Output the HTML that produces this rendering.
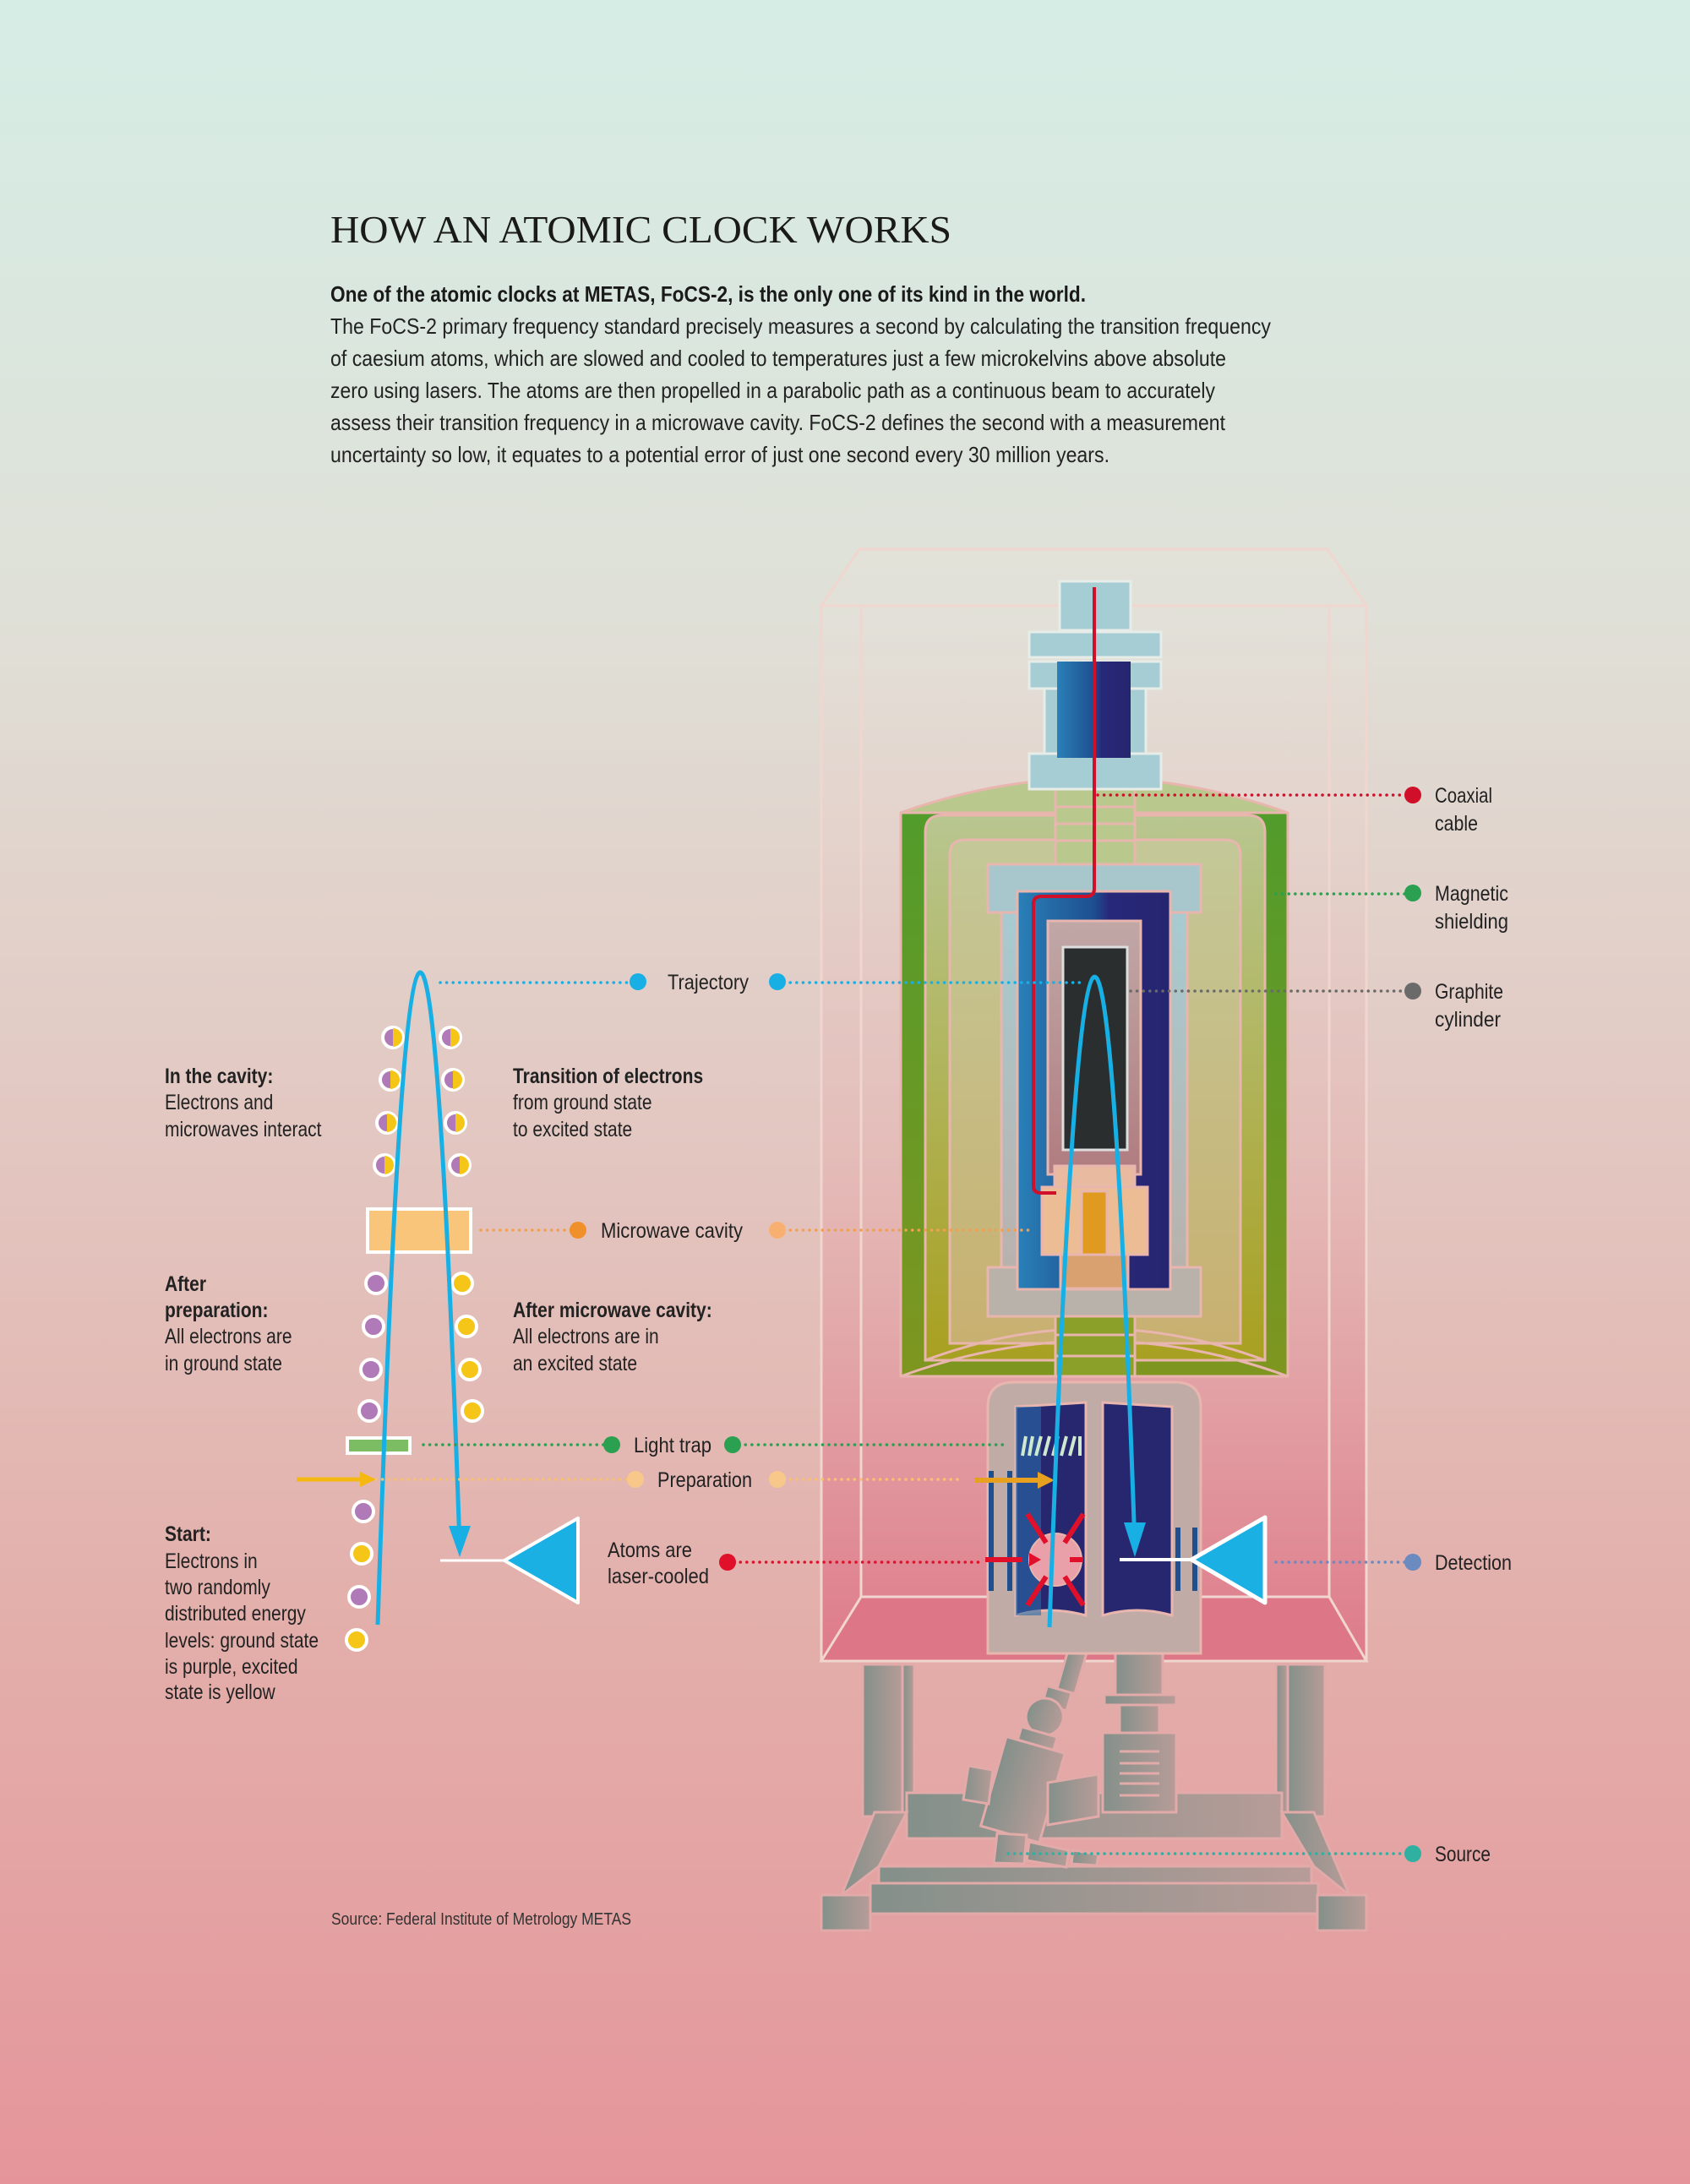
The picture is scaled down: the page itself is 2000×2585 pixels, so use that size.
<!DOCTYPE html>
<html><head><meta charset="utf-8"><style>html,body{margin:0;padding:0}svg{display:block}</style></head><body>
<svg width="2000" height="2585" viewBox="0 0 2000 2585" xmlns="http://www.w3.org/2000/svg" font-family="'Liberation Sans', sans-serif">
<defs>
<linearGradient id="bg" x1="0" y1="0" x2="0" y2="1">
<stop offset="0" stop-color="#d5ede5"/><stop offset="0.27" stop-color="#dfe1d8"/><stop offset="0.5" stop-color="#e3c9c3"/><stop offset="0.75" stop-color="#e3aeaa"/><stop offset="1" stop-color="#e5959a"/></linearGradient>
<linearGradient id="box" x1="0" y1="0" x2="0" y2="1">
<stop offset="0" stop-color="#e6e2da" stop-opacity="0.5"/><stop offset="0.5" stop-color="#e5b8b5" stop-opacity="0.6"/><stop offset="1" stop-color="#de7a8a"/></linearGradient>
<linearGradient id="g1" x1="0" y1="0" x2="0" y2="1"><stop offset="0" stop-color="#4f9c2c"/><stop offset="1" stop-color="#7e9620"/></linearGradient>
<linearGradient id="g2" x1="0" y1="0" x2="0" y2="1"><stop offset="0" stop-color="#b8c690"/><stop offset="1" stop-color="#a8a020"/></linearGradient>
<linearGradient id="g3" x1="0" y1="0" x2="0" y2="1"><stop offset="0" stop-color="#c4c898"/><stop offset="1" stop-color="#c8b070"/></linearGradient>
<linearGradient id="tube" x1="0" y1="0" x2="1" y2="0"><stop offset="0" stop-color="#2a80b8"/><stop offset="0.5" stop-color="#1d4f90"/><stop offset="0.6" stop-color="#28287a"/><stop offset="1" stop-color="#25256f"/></linearGradient>
<linearGradient id="lb" x1="0" y1="0" x2="0" y2="1"><stop offset="0" stop-color="#a7ccd2"/><stop offset="1" stop-color="#bab0aa"/></linearGradient>
<linearGradient id="gray" x1="0" y1="0" x2="1" y2="0"><stop offset="0" stop-color="#84908a"/><stop offset="1" stop-color="#b79c98"/></linearGradient>
<linearGradient id="graph" x1="0" y1="0" x2="0" y2="1"><stop offset="0" stop-color="#c0a8a6"/><stop offset="1" stop-color="#b07c80"/></linearGradient>
</defs>
<rect width="2000" height="2585" fill="url(#bg)"/>

<!-- Title and text -->
<text x="391" y="287" font-family="'Liberation Serif', serif" font-size="46" fill="#1a1a1a" textLength="735" lengthAdjust="spacingAndGlyphs">HOW AN ATOMIC CLOCK WORKS</text>
<text x="391" y="357" font-size="26" font-weight="bold" fill="#1a1a1a" textLength="894" lengthAdjust="spacingAndGlyphs">One of the atomic clocks at METAS, FoCS-2, is the only one of its kind in the world.</text>
<g font-size="26" fill="#222">
<text x="391" y="395" textLength="1113" lengthAdjust="spacingAndGlyphs">The  FoCS-2 primary frequency standard precisely measures a second by calculating the transition frequency</text>
<text x="391" y="433" textLength="1060" lengthAdjust="spacingAndGlyphs">of caesium atoms, which are slowed and cooled to temperatures just a few microkelvins above absolute</text>
<text x="391" y="471" textLength="1047" lengthAdjust="spacingAndGlyphs">zero using lasers. The atoms are then propelled in a parabolic path as a continuous beam to accurately</text>
<text x="391" y="509" textLength="1059" lengthAdjust="spacingAndGlyphs">assess their transition frequency in a microwave cavity. FoCS-2 defines the second with a measurement</text>
<text x="391" y="547" textLength="922" lengthAdjust="spacingAndGlyphs">uncertainty so low, it equates to a potential error of just one second every 30 million years.</text>
</g>

<!-- Box -->
<g stroke="#f0d6cf" stroke-width="3">
<rect x="972" y="717" width="645" height="1249" fill="url(#box)"/>
<polygon points="1017,650 1571,650 1617,717 972,717" fill="#e6e2da" fill-opacity="0.5"/>
<line x1="1019" y1="717" x2="1019" y2="1890"/><line x1="1573" y1="717" x2="1573" y2="1890"/>
<polygon points="1019,1890 1573,1890 1617,1966 972,1966" fill="#dd7687"/>
</g>

<!-- Base -->
<g fill="url(#gray)" stroke="#e2aaa8" stroke-width="3">
<rect x="1021" y="1970" width="47" height="180"/><rect x="1068" y="1970" width="14" height="175"/>
<rect x="1524" y="1970" width="44" height="180"/><rect x="1510" y="1970" width="14" height="175"/>
<rect x="1073" y="2122" width="444" height="54"/>
<polygon points="1035,2145 1073,2145 1040,2209 996,2243"/>
<polygon points="1517,2145 1555,2145 1597,2243 1555,2209"/>
<rect x="1040" y="2209" width="512" height="20"/>
<rect x="1030" y="2229" width="530" height="36"/>
<rect x="972" y="2243" width="58" height="42"/><rect x="1559" y="2243" width="58" height="42"/>
<!-- pedestal -->
<rect x="1320" y="1950" width="56" height="56"/>
<rect x="1307" y="2006" width="85" height="12"/>
<rect x="1325" y="2018" width="47" height="34"/>
<rect x="1305" y="2051" width="87" height="94"/>
<!-- source arm -->
<g transform="rotate(16 1230 2050)">
<rect x="1236" y="1925" width="22" height="70"/>
<rect x="1224" y="1995" width="30" height="22"/>
<circle cx="1231" cy="2031" r="22"/>
<rect x="1208" y="2050" width="44" height="16"/>
<rect x="1194" y="2066" width="72" height="110"/>
</g>
<polygon points="1146,2090 1175,2095 1170,2135 1140,2130"/>
<polygon points="1240,2110 1300,2100 1300,2150 1240,2160"/>
<polygon points="1180,2170 1215,2172 1212,2206 1176,2205"/>
<polygon points="1218,2180 1265,2190 1262,2210 1215,2202"/>
<polygon points="1270,2190 1300,2195 1298,2208 1268,2206"/>
</g>
<g stroke="#e2aaa8" stroke-width="3"><line x1="1325" y1="2073" x2="1372" y2="2073"/><line x1="1325" y1="2087" x2="1372" y2="2087"/><line x1="1325" y1="2099" x2="1372" y2="2099"/><line x1="1325" y1="2111" x2="1372" y2="2111"/><line x1="1325" y1="2125" x2="1372" y2="2125"/></g>

<!-- Magnetic shielding -->
<g stroke="#e8b6ae" stroke-width="3">
<path d="M1066,1629 L1066,962 Q1295,880 1524,962 L1524,1629 Z" fill="url(#g1)"/>
<path d="M1066,962 Q1295,880 1524,962 Z" fill="#b9c88c"/>
<path d="M1095,1610 L1095,985 Q1095,965 1115,965 L1477,965 Q1497,965 1497,985 L1497,1610 Z" fill="url(#g2)"/>
<path d="M1124,1590 L1124,1012 Q1124,994 1142,994 L1450,994 Q1468,994 1468,1012 L1468,1590 Z" fill="url(#g3)"/>
<path d="M1066,1629 Q1295,1545 1524,1629" fill="none"/>
<path d="M1095,1610 Q1295,1535 1497,1610" fill="none"/>
<rect x="1249" y="933" width="94" height="90" fill="#b9c88c"/>
<line x1="1249" y1="955" x2="1343" y2="955"/><line x1="1249" y1="975" x2="1343" y2="975"/><line x1="1249" y1="995" x2="1343" y2="995"/>
<rect x="1249" y="1555" width="94" height="74" fill="#8aa028"/>
<line x1="1249" y1="1580" x2="1343" y2="1580"/><line x1="1249" y1="1605" x2="1343" y2="1605"/>
</g>

<!-- top flange -->
<g fill="#a5cdd3" stroke="#e6ece8" stroke-width="3">
<rect x="1254" y="688" width="84" height="58"/>
<rect x="1218" y="748" width="156" height="30"/>
<rect x="1218" y="783" width="156" height="32"/>
<rect x="1236" y="815" width="120" height="80"/>
<rect x="1218" y="892" width="156" height="42"/>
<rect x="1251" y="783" width="87" height="114" fill="url(#tube)" stroke="none"/>
</g>

<!-- inner vacuum structure -->
<g stroke="#e8b6ae" stroke-width="3">
<rect x="1185" y="1060" width="220" height="470" fill="url(#lb)"/>
<rect x="1169" y="1023" width="252" height="57" fill="#a8c7cc"/>
<rect x="1169" y="1500" width="252" height="58" fill="#b8b2aa"/>
<rect x="1204" y="1055" width="181" height="471" fill="url(#tube)"/>
<rect x="1240" y="1090" width="110" height="300" fill="url(#graph)"/>
<rect x="1258" y="1121" width="76" height="240" fill="#2a2e2e" stroke="#ddd" />
<rect x="1248" y="1380" width="95" height="28" fill="#e8baa0"/>
<rect x="1233" y="1405" width="125" height="80" fill="#ecbc94"/>
<rect x="1280" y="1410" width="30" height="75" fill="#e09a20"/>
<rect x="1255" y="1485" width="80" height="40" fill="#d9a070"/>
</g>
<path d="M1295,695 L1295,1052 Q1295,1061 1285,1061 L1232,1061 Q1223,1061 1223,1070 L1223,1404 Q1223,1412 1232,1412 L1250,1412" fill="none" stroke="#d0102a" stroke-width="4"/>

<!-- lower chamber -->
<g stroke="#e8b6ae" stroke-width="3">
<path d="M1169,1957 L1169,1665 Q1169,1636 1200,1636 L1390,1636 Q1421,1636 1421,1665 L1421,1957 Z" fill="#c1aba6"/>
<path d="M1202,1912 L1202,1665 L1285,1660 L1285,1912 Q1240,1900 1202,1912 Z" fill="#26276f"/>
<path d="M1305,1912 L1305,1660 L1387,1665 L1387,1912 Q1345,1900 1305,1912 Z" fill="#26276f"/>
</g>
<rect x="1202" y="1665" width="30" height="247" fill="#2a6aa8" opacity="0.6"/>
<g fill="#1f4f8c"><rect x="1170" y="1741" width="6" height="142"/><rect x="1192" y="1741" width="6" height="142"/><rect x="1391" y="1808" width="6" height="75"/><rect x="1411" y="1808" width="6" height="75"/></g>
<g stroke="#cfe9d0" stroke-width="4"><line x1="1210" y1="1723" x2="1214" y2="1700"/><line x1="1218" y1="1723" x2="1222" y2="1700"/><line x1="1226" y1="1723" x2="1232" y2="1700"/><line x1="1236" y1="1723" x2="1242" y2="1700"/><line x1="1246" y1="1723" x2="1252" y2="1700"/><line x1="1256" y1="1723" x2="1262" y2="1700"/><line x1="1266" y1="1723" x2="1272" y2="1700"/><line x1="1278" y1="1723" x2="1278" y2="1700"/></g>
<line x1="1153" y1="1752" x2="1232" y2="1752" stroke="#e8a020" stroke-width="6"/><polygon points="1228,1742 1248,1752 1228,1762" fill="#e8a020"/>
<circle cx="1249" cy="1846" r="31" fill="#e9a0a8" stroke="#e8b6ae" stroke-width="2"/>
<g stroke="#e0102a" stroke-width="6"><line x1="1166" y1="1846" x2="1210" y2="1846"/><line x1="1216" y1="1792" x2="1238" y2="1826"/><line x1="1282" y1="1792" x2="1260" y2="1826"/><line x1="1216" y1="1900" x2="1238" y2="1866"/><line x1="1282" y1="1900" x2="1260" y2="1866"/><line x1="1282" y1="1846" x2="1266" y2="1846"/></g>
<polygon points="1218,1838 1232,1846 1218,1854" fill="#e0102a"/>
<line x1="1325" y1="1846" x2="1410" y2="1846" stroke="#fff" stroke-width="4"/>
<polygon points="1410,1846 1497,1796 1497,1897" fill="#1ab0e4" stroke="#fff" stroke-width="5" stroke-linejoin="round"/>
<path d="M1242,1926 Q1295,436 1343,1830" fill="none" stroke="#18b0e4" stroke-width="5"/>
<polygon points="1330,1802 1356,1802 1343,1843" fill="#18b0e4"/>

<!-- Left diagram -->
<rect x="435" y="1431" width="122" height="51" fill="#f8c57a" stroke="#fff" stroke-width="4"/>
<rect x="411" y="1702" width="74" height="18" fill="#7cbd64" stroke="#fff" stroke-width="4"/>
<line x1="351" y1="1751" x2="430" y2="1751" stroke="#f5b810" stroke-width="5"/><polygon points="426,1742 445,1751 426,1760" fill="#f5b810"/>
<line x1="521" y1="1847" x2="597" y2="1847" stroke="#fff" stroke-width="3"/>
<polygon points="597,1847 684,1797 684,1897" fill="#1ab0e4" stroke="#fff" stroke-width="4" stroke-linejoin="round"/>
<g stroke="#fff" stroke-width="4">
<circle cx="430" cy="1789" r="12" fill="#b07ab8"/><circle cx="428" cy="1839" r="12" fill="#f5c518"/><circle cx="425" cy="1890" r="12" fill="#b07ab8"/><circle cx="422" cy="1941" r="12" fill="#f5c518"/>
<circle cx="445" cy="1519" r="12" fill="#b07ab8"/><circle cx="442" cy="1570" r="12" fill="#b07ab8"/><circle cx="439" cy="1621" r="12" fill="#b07ab8"/><circle cx="437" cy="1670" r="12" fill="#b07ab8"/>
<circle cx="547" cy="1519" r="12" fill="#f5c518"/><circle cx="552" cy="1570" r="12" fill="#f5c518"/><circle cx="556" cy="1621" r="12" fill="#f5c518"/><circle cx="559" cy="1670" r="12" fill="#f5c518"/>
</g>
<g stroke="#fff" stroke-width="4">
<g transform="translate(465,1228)"><circle r="12" fill="#b07ab8"/><path d="M0,-11 A11,11 0 0 1 0,11 Z" fill="#f5c518" stroke="none"/></g>
<g transform="translate(462,1278)"><circle r="12" fill="#b07ab8"/><path d="M0,-11 A11,11 0 0 1 0,11 Z" fill="#f5c518" stroke="none"/></g>
<g transform="translate(458,1329)"><circle r="12" fill="#b07ab8"/><path d="M0,-11 A11,11 0 0 1 0,11 Z" fill="#f5c518" stroke="none"/></g>
<g transform="translate(455,1379)"><circle r="12" fill="#b07ab8"/><path d="M0,-11 A11,11 0 0 1 0,11 Z" fill="#f5c518" stroke="none"/></g>
<g transform="translate(533,1228)"><circle r="12" fill="#b07ab8"/><path d="M0,-11 A11,11 0 0 1 0,11 Z" fill="#f5c518" stroke="none"/></g>
<g transform="translate(536,1278)"><circle r="12" fill="#b07ab8"/><path d="M0,-11 A11,11 0 0 1 0,11 Z" fill="#f5c518" stroke="none"/></g>
<g transform="translate(539,1329)"><circle r="12" fill="#b07ab8"/><path d="M0,-11 A11,11 0 0 1 0,11 Z" fill="#f5c518" stroke="none"/></g>
<g transform="translate(544,1379)"><circle r="12" fill="#b07ab8"/><path d="M0,-11 A11,11 0 0 1 0,11 Z" fill="#f5c518" stroke="none"/></g>
</g>
<path d="M447,1923 Q496,427 544,1830" fill="none" stroke="#18b0e4" stroke-width="5"/>
<polygon points="531,1806 557,1806 544,1843" fill="#18b0e4"/>

<!-- dotted connectors -->
<g fill="none" stroke-width="3.5" stroke-dasharray="0.1 7.5" stroke-linecap="round">
<line x1="1299" y1="941" x2="1672" y2="941" stroke="#d0102a"/>
<line x1="1510" y1="1058" x2="1672" y2="1058" stroke="#2aa050"/>
<line x1="1338" y1="1173" x2="1672" y2="1173" stroke="#6a6a6a"/>
<line x1="521" y1="1163" x2="755" y2="1163" stroke="#18b0e4"/>
<line x1="920" y1="1163" x2="1283" y2="1163" stroke="#18b0e4"/>
<line x1="569" y1="1456" x2="684" y2="1456" stroke="#f0a050"/>
<line x1="920" y1="1456" x2="1222" y2="1456" stroke="#f0a050"/>
<line x1="501" y1="1710" x2="724" y2="1710" stroke="#2aa050"/>
<line x1="867" y1="1710" x2="1192" y2="1710" stroke="#2aa050"/>
<line x1="445" y1="1751" x2="752" y2="1751" stroke="#f8c070"/>
<line x1="920" y1="1751" x2="1140" y2="1751" stroke="#f8c070"/>
<line x1="861" y1="1849" x2="1160" y2="1849" stroke="#e0102a"/>
<line x1="1510" y1="1849" x2="1672" y2="1849" stroke="#6a8ac0"/>
<line x1="1193" y1="2194" x2="1672" y2="2194" stroke="#30b0a0"/>
</g>
<g>
<circle cx="1672" cy="941" r="10" fill="#d0102a"/><circle cx="1672" cy="1057" r="10" fill="#2aa050"/><circle cx="1672" cy="1173" r="10" fill="#6a6a6a"/>
<circle cx="755" cy="1162" r="10" fill="#18b0e4"/><circle cx="920" cy="1162" r="10" fill="#18b0e4"/>
<circle cx="684" cy="1456" r="10" fill="#f0902a"/><circle cx="920" cy="1456" r="10" fill="#f8b070"/>
<circle cx="724" cy="1710" r="10" fill="#2aa050"/><circle cx="867" cy="1710" r="10" fill="#2aa050"/>
<circle cx="752" cy="1751" r="10" fill="#f8c88a"/><circle cx="920" cy="1751" r="10" fill="#f8c88a"/>
<circle cx="861" cy="1849" r="10" fill="#e0102a"/><circle cx="1672" cy="1849" r="10" fill="#6a8ac0"/><circle cx="1672" cy="2194" r="10" fill="#30b0a0"/>
</g>

<!-- labels -->
<g font-size="25" fill="#222">
<text x="1698" y="950" textLength="68" lengthAdjust="spacingAndGlyphs">Coaxial</text>
<text x="1698" y="983" textLength="51" lengthAdjust="spacingAndGlyphs">cable</text>
<text x="1698" y="1066" textLength="87" lengthAdjust="spacingAndGlyphs">Magnetic</text>
<text x="1698" y="1099" textLength="87" lengthAdjust="spacingAndGlyphs">shielding</text>
<text x="1698" y="1182" textLength="81" lengthAdjust="spacingAndGlyphs">Graphite</text>
<text x="1698" y="1215" textLength="78" lengthAdjust="spacingAndGlyphs">cylinder</text>
<text x="1698" y="1858" textLength="91" lengthAdjust="spacingAndGlyphs">Detection</text>
<text x="1698" y="2203" textLength="66" lengthAdjust="spacingAndGlyphs">Source</text>
<text x="790" y="1171" textLength="96" lengthAdjust="spacingAndGlyphs">Trajectory</text>
<text x="711" y="1465" textLength="168" lengthAdjust="spacingAndGlyphs">Microwave cavity</text>
<text x="750" y="1719" textLength="92" lengthAdjust="spacingAndGlyphs">Light trap</text>
<text x="778" y="1760" textLength="112" lengthAdjust="spacingAndGlyphs">Preparation</text>
<text x="719" y="1843" textLength="100" lengthAdjust="spacingAndGlyphs">Atoms are</text>
<text x="719" y="1874" textLength="120" lengthAdjust="spacingAndGlyphs">laser-cooled</text>
</g>
<g font-size="25" fill="#222">
<g transform="translate(195,0) scale(0.84,1)">
<text x="0" y="1282" font-weight="bold">In the cavity:</text>
<text x="0" y="1313">Electrons and</text>
<text x="0" y="1345">microwaves interact</text>
<text x="0" y="1528" font-weight="bold">After</text>
<text x="0" y="1559" font-weight="bold">preparation:</text>
<text x="0" y="1590">All electrons are</text>
<text x="0" y="1622">in ground state</text>
<text x="0" y="1824" font-weight="bold">Start:</text>
<text x="0" y="1856">Electrons in</text>
<text x="0" y="1887">two randomly</text>
<text x="0" y="1918">distributed energy</text>
<text x="0" y="1950">levels: ground state</text>
<text x="0" y="1981">is purple, excited</text>
<text x="0" y="2011">state is yellow</text>
</g>
<g transform="translate(607,0) scale(0.84,1)">
<text x="0" y="1282" font-weight="bold">Transition of electrons</text>
<text x="0" y="1313">from ground state</text>
<text x="0" y="1345">to excited state</text>
<text x="0" y="1559" font-weight="bold">After microwave cavity:</text>
<text x="0" y="1590">All electrons are in</text>
<text x="0" y="1622">an excited state</text>
</g>
</g>
<text x="392" y="2278" font-size="20" fill="#333" textLength="355" lengthAdjust="spacingAndGlyphs">Source: Federal Institute of Metrology METAS</text>
</svg>
</body></html>
